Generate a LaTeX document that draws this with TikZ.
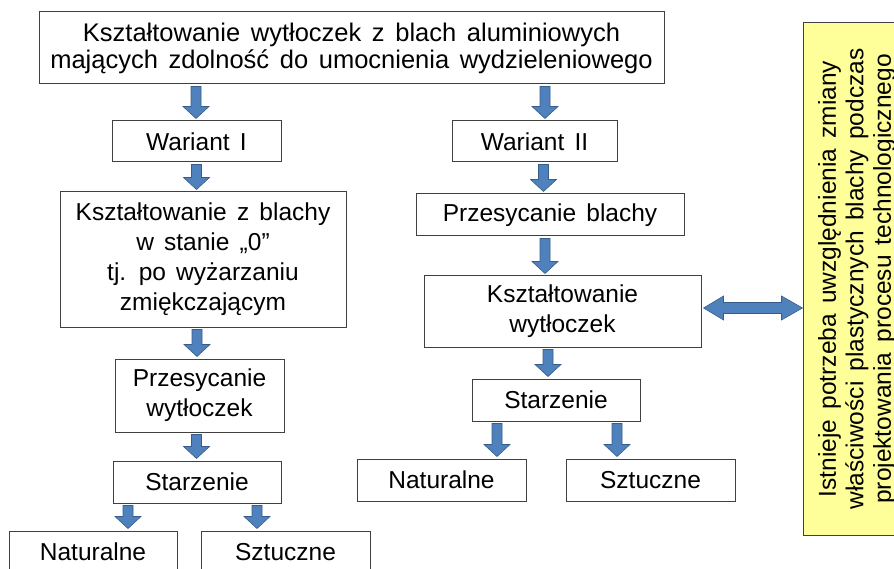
\documentclass[tikz,border=0pt]{standalone}
\usepackage{fontspec}
\setmainfont{Liberation Sans}[WordSpace=1.5]
\usetikzlibrary{calc}
\definecolor{arrowfill}{HTML}{4F81BD}
\definecolor{arrowline}{HTML}{385D8A}
\definecolor{noteyellow}{HTML}{FFFF99}
\tikzset{
  box/.style={draw=black!75, line width=1pt, fill=white, inner sep=0pt, align=center,
    font=\fontsize{24.5}{30}\selectfont},
  flow/.style={fill=arrowfill, draw=arrowline, line width=0.6pt,
    to path={let \p1=(\tikztostart), \p2=(\tikztotarget) in
      (\x1-5pt,\y1-2pt) -- (\x1+5pt,\y1-2pt) -- (\x1+5pt,\y2+14pt) -- (\x1+13pt,\y2+14pt)
      -- (\x1,\y2+2pt) -- (\x1-13pt,\y2+14pt) -- (\x1-5pt,\y2+14pt) -- cycle}},
  twoway/.style={fill=arrowfill, draw=arrowline, line width=0.6pt,
    to path={let \p1=(\tikztostart), \p2=(\tikztotarget) in
      (\x1+2pt,\y1) -- (\x1+22pt,\y1+12pt) -- (\x1+22pt,\y1+5.5pt) -- (\x2-21pt,\y1+5.5pt)
      -- (\x2-21pt,\y1+12pt) -- (\x2,\y1) -- (\x2-21pt,\y1-12pt) -- (\x2-21pt,\y1-5.5pt)
      -- (\x1+22pt,\y1-5.5pt) -- (\x1+22pt,\y1-12pt) -- cycle}}
}
\begin{document}
\begin{tikzpicture}[x=1pt,y=-1pt]
    \useasboundingbox (0,0) rectangle (894,569);
    \clip (0,0) rectangle (894,569);
    \node[box, minimum width=625, minimum height=72, font=\fontsize{25.5}{27}\selectfont] (top) at (351.5,48)
        {Kształtowanie wytłoczek z blach aluminiowych\\mających zdolność do umocnienia wydzieleniowego};
    \node[box, minimum width=169, minimum height=41] (war1) at (196.5,141.5) {Wariant I};
    \node[box, minimum width=286, minimum height=135] (ksz1) at (203,259.5)
        {Kształtowanie z blachy\\w stanie „0”\\tj. po wyżarzaniu\\zmiękczającym};
    \node[box, minimum width=169, minimum height=73] (prz1) at (199.5,395.5) {Przesycanie\\wytłoczek};
    \node[box, minimum width=168, minimum height=42] (sta1) at (197,482) {Starzenie};
    \node[box, minimum width=168, minimum height=42] (nat1) at (93,552) {Naturalne};
    \node[box, minimum width=169, minimum height=42] (szt1) at (285.5,552) {Sztuczne};
    \node[box, minimum width=165, minimum height=41] (war2) at (534.5,141.5) {Wariant II};
    \node[box, minimum width=268, minimum height=42] (prz2) at (550,215) {Przesycanie blachy};
    \node[box, minimum width=277, minimum height=71] (ksz2) at (562.5,311.5) {Kształtowanie\\wytłoczek};
    \node[box, minimum width=168, minimum height=42] (sta2) at (556,400) {Starzenie};
    \node[box, minimum width=169, minimum height=42] (nat2) at (441.5,480) {Naturalne};
    \node[box, minimum width=169, minimum height=42] (szt2) at (650.5,480) {Sztuczne};
    \node[box, fill=noteyellow, rotate=90, minimum width=512, minimum height=108,
        font=\fontsize{24.5}{27.5}\selectfont] (note) at (857,279)
        {Istnieje potrzeba uwzględnienia zmiany\\właściwości plastycznych blachy podczas\\projektowania procesu technologicznego};
    \draw[flow] ([xshift=-155.5pt]top.south) to (war1.north);
    \draw[flow] (war1.south) to (ksz1.north);
    \draw[flow] ([xshift=-6pt]ksz1.south) to (prz1.north);
    \draw[flow] ([xshift=-3pt]prz1.south) to (sta1.north);
    \draw[flow] ([xshift=-69pt]sta1.south) to (nat1.north);
    \draw[flow] ([xshift=60pt]sta1.south) to (szt1.north);
    \draw[flow] ([xshift=193.5pt]top.south) to (war2.north);
    \draw[flow] ([xshift=9pt]war2.south) to (prz2.north);
    \draw[flow] ([xshift=-5pt]prz2.south) to (ksz2.north);
    \draw[flow] ([xshift=-14.5pt]ksz2.south) to (sta2.north);
    \draw[flow] ([xshift=-59pt]sta2.south) to (nat2.north);
    \draw[flow] ([xshift=61pt]sta2.south) to (szt2.north);
    \draw[twoway] ([yshift=3.5pt]ksz2.east) to (note.north);
\end{tikzpicture}
\end{document}
